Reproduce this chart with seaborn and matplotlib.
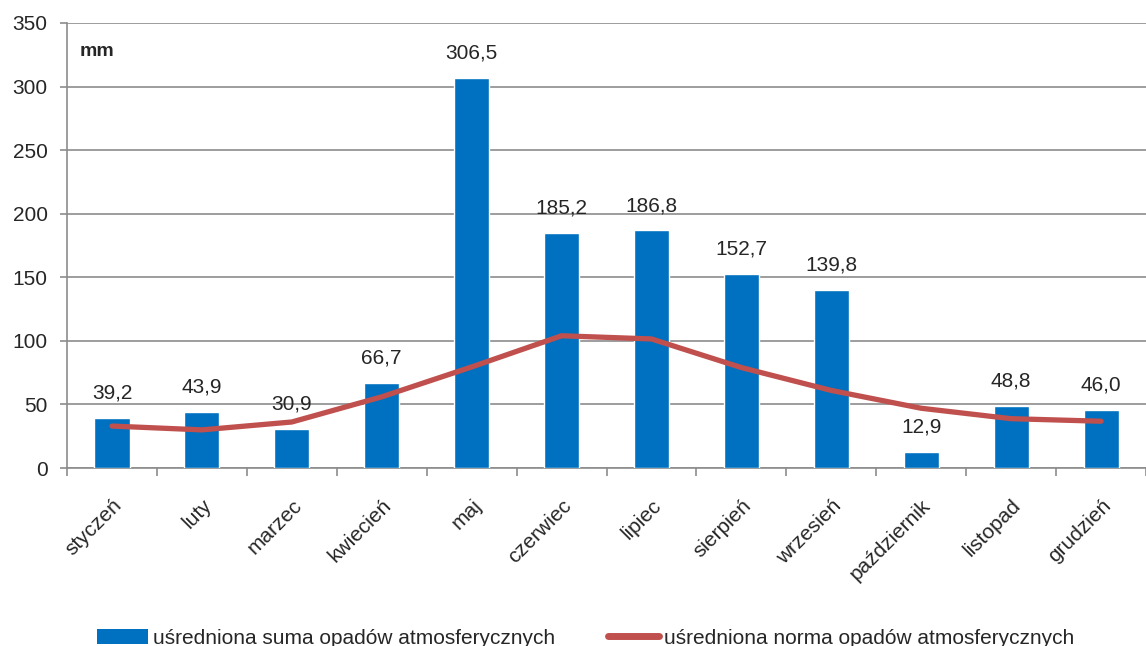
import numpy as np
import pandas as pd
import matplotlib
matplotlib.use("Agg")
import matplotlib.pyplot as plt
import seaborn as sns
from matplotlib.patches import Patch
from matplotlib.lines import Line2D
from matplotlib.transforms import ScaledTranslation

miesiace = ["styczeń", "luty", "marzec", "kwiecień", "maj", "czerwiec",
            "lipiec", "sierpień", "wrzesień", "październik", "listopad", "grudzień"]
suma_opadow = [39.2, 43.9, 30.9, 66.7, 306.5, 185.2, 186.8, 152.7, 139.8, 12.9, 48.8, 46.0]
norma_opadow = [33.0, 30.0, 36.2, 56.0, 79.5, 104.0, 101.5, 79.0, 61.0, 47.0, 38.8, 36.8]

sns.set_theme(style="white")
plt.rcParams['font.family'] = ['Liberation Sans', 'DejaVu Sans']

df = pd.DataFrame({"miesiac": miesiace, "suma": suma_opadow, "norma": norma_opadow})

fig = plt.figure(figsize=(11.46, 6.46), dpi=100)
ax = fig.add_axes([0.0585, 0.2755, 0.9415, 0.689])

sns.barplot(data=df, x="miesiac", y="suma", color="#0070C0", saturation=1,
            width=0.39, ax=ax, zorder=3)
sns.lineplot(x=np.arange(len(miesiace)), y=df["norma"], color="#C0504D",
             linewidth=3.8, ax=ax, zorder=4)

labels = [f"{v:.1f}".replace(".", ",") for v in suma_opadow]
ax.bar_label(ax.containers[0], labels=labels, padding=11, fontsize=15)

ax.set_ylim(0, 350)
ax.set_xlim(-0.5, len(miesiace) - 0.5)
ax.set_yticks(np.arange(0, 351, 50))
ax.yaxis.grid(True, color="#8c8c8c", linewidth=1.2, zorder=0)
ax.set_xlabel("")
ax.set_ylabel("")

ax.tick_params(axis="y", labelsize=15, length=5, width=1.2, color="#8c8c8c",
               direction="out", left=True, pad=9)
ax.set_xticks(np.arange(len(miesiace)))
ax.set_xticklabels(miesiace, rotation=45, ha="right", rotation_mode="anchor", fontsize=15)
ax.tick_params(axis="x", which="major", length=0, pad=20)
ax.set_xticks(np.arange(-0.5, len(miesiace)), minor=True)
ax.tick_params(axis="x", which="minor", length=6, width=1.2, color="#8c8c8c",
               direction="out", bottom=True)
for lab in ax.get_xticklabels():
    lab.set_transform(lab.get_transform() + ScaledTranslation(0.0, 0, fig.dpi_scale_trans))

for s in ["top", "right"]:
    ax.spines[s].set_visible(False)
for s in ["left", "bottom"]:
    ax.spines[s].set_color("#8c8c8c")
    ax.spines[s].set_linewidth(1.2)

ax.text(0.012, 0.955, "mm", transform=ax.transAxes, fontsize=14,
        fontweight="bold", va="top", ha="left")

handles = [Patch(facecolor="#0070C0", edgecolor="none"),
           Line2D([0], [0], color="#C0504D", linewidth=5)]
fig.legend(handles, ["uśredniona suma opadów atmosferycznych",
                     "uśredniona norma opadów atmosferycznych"],
           loc="center", bbox_to_anchor=(0.511, 0.012), ncol=2, frameon=False,
           fontsize=15, handlelength=2.45, handletextpad=0.25, columnspacing=2.5)

fig.savefig("out.png", dpi=100)
